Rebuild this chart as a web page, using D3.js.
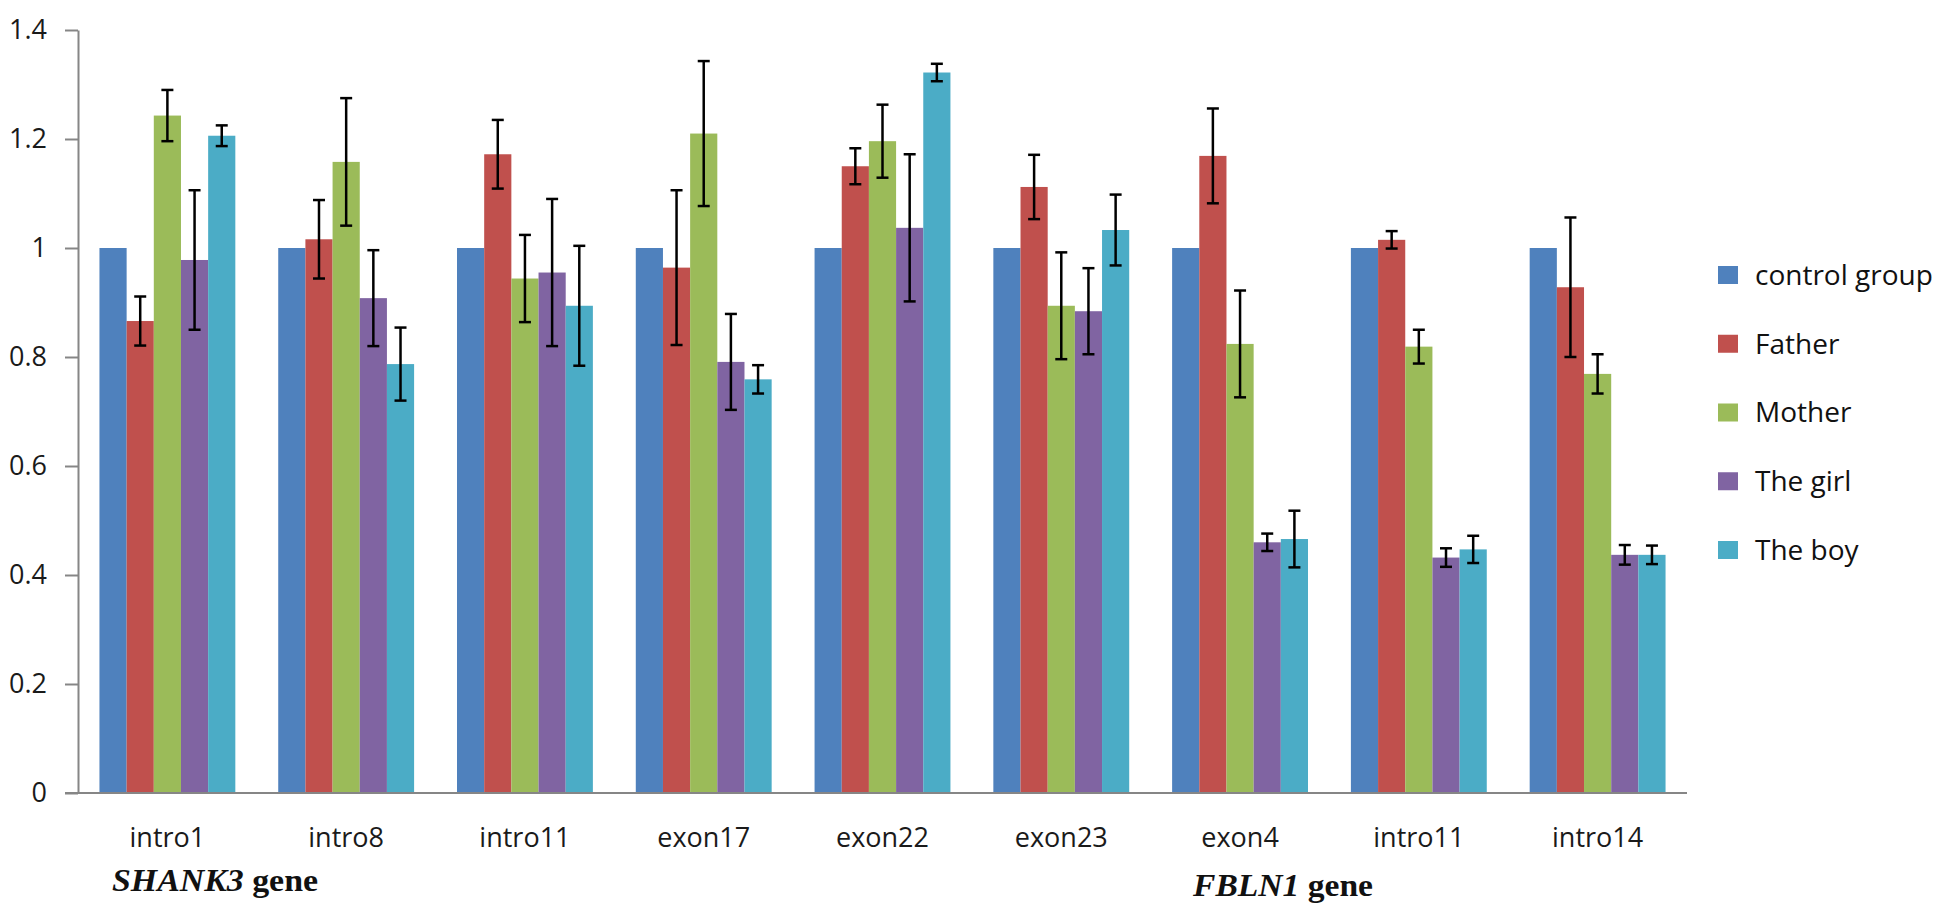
<!DOCTYPE html>
<html>
<head>
<meta charset="utf-8">
<script src="https://cdn.jsdelivr.net/npm/d3@7/dist/d3.min.js"></script>
<style>
  html, body { margin: 0; padding: 0; background: #ffffff; }
  svg { display: block; }
</style>
</head>
<body>
<svg id="chart" width="1946" height="916"></svg>
<script>
// ---- data ----
const categories = ["intro1", "intro8", "intro11", "exon17", "exon22", "exon23", "exon4", "intro11", "intro14"];
const seriesNames = ["control group", "Father", "Mother", "The girl", "The boy"];
const seriesColors = ["#4F81BD", "#C0504D", "#9BBB59", "#8064A2", "#4BACC6"];

const controlValues = [1, 1, 1, 1, 1, 1, 1, 1, 1];
const controlErrors = [0, 0, 0, 0, 0, 0, 0, 0, 0];
const fatherValues  = [0.866, 1.016, 1.172, 0.964, 1.150, 1.112, 1.169, 1.015, 0.928];
const fatherErrors  = [0.045, 0.072, 0.063, 0.142, 0.033, 0.059, 0.087, 0.016, 0.128];
const motherValues  = [1.243, 1.158, 0.944, 1.210, 1.196, 0.894, 0.824, 0.819, 0.769];
const motherErrors  = [0.047, 0.117, 0.080, 0.133, 0.067, 0.098, 0.098, 0.031, 0.036];
const girlValues    = [0.978, 0.908, 0.955, 0.791, 1.037, 0.884, 0.460, 0.432, 0.437];
const girlErrors    = [0.128, 0.088, 0.135, 0.088, 0.135, 0.079, 0.016, 0.017, 0.018];
const boyValues     = [1.206, 0.787, 0.894, 0.759, 1.322, 1.033, 0.466, 0.447, 0.437];
const boyErrors     = [0.019, 0.067, 0.110, 0.026, 0.016, 0.065, 0.052, 0.025, 0.017];

const yTicks = [0, 0.2, 0.4, 0.6, 0.8, 1, 1.2, 1.4];
const yTickLabels = ["0", "0.2", "0.4", "0.6", "0.8", "1", "1.2", "1.4"];
const geneLabels = [
  { italic: "SHANK3", rest: " gene", x: 112, y: 891, w: 206 },
  { italic: "FBLN1",  rest: " gene", x: 1193, y: 896, w: 180 }
];

const allValues = [controlValues, fatherValues, motherValues, girlValues, boyValues];
const allErrors = [controlErrors, fatherErrors, motherErrors, girlErrors, boyErrors];

// ---- layout ----
const svg = d3.select("#chart");
const axisLeftX = 78, axisRightX = 1687, baseY = 793, topY = 30;

const x0 = d3.scaleBand()
  .domain(d3.range(categories.length))
  .range([axisLeftX, axisRightX])
  .paddingInner(0.24)
  .paddingOuter(0.12);

const x1 = d3.scaleBand()
  .domain(d3.range(seriesNames.length))
  .range([0, x0.bandwidth()])
  .padding(0);

const y = d3.scaleLinear().domain([0, 1.4]).range([baseY, topY]);

const sansFont = "'Open Sans', 'DejaVu Sans', sans-serif";

// ---- bars ----
const groups = svg.append("g").selectAll("g")
  .data(categories.map((c, i) => i))
  .join("g")
  .attr("transform", i => `translate(${x0(i)},0)`);

groups.selectAll("rect")
  .data(i => seriesNames.map((s, k) => ({ k, v: allValues[k][i], e: allErrors[k][i] })))
  .join("rect")
  .attr("x", d => x1(d.k))
  .attr("y", d => y(d.v))
  .attr("width", x1.bandwidth())
  .attr("height", d => y(0) - y(d.v))
  .attr("fill", d => seriesColors[d.k]);

// ---- error bars ----
const capHalf = 6;
const eb = groups.selectAll("g.err")
  .data(i => seriesNames.map((s, k) => ({ k, v: allValues[k][i], e: allErrors[k][i] })).filter(d => d.e > 0))
  .join("g")
  .attr("class", "err")
  .attr("stroke", "#000")
  .attr("stroke-width", 2.5);

eb.append("line")
  .attr("x1", d => x1(d.k) + x1.bandwidth() / 2)
  .attr("x2", d => x1(d.k) + x1.bandwidth() / 2)
  .attr("y1", d => y(d.v + d.e))
  .attr("y2", d => y(d.v - d.e));
eb.append("line")
  .attr("x1", d => x1(d.k) + x1.bandwidth() / 2 - capHalf)
  .attr("x2", d => x1(d.k) + x1.bandwidth() / 2 + capHalf)
  .attr("y1", d => y(d.v + d.e))
  .attr("y2", d => y(d.v + d.e));
eb.append("line")
  .attr("x1", d => x1(d.k) + x1.bandwidth() / 2 - capHalf)
  .attr("x2", d => x1(d.k) + x1.bandwidth() / 2 + capHalf)
  .attr("y1", d => y(d.v - d.e))
  .attr("y2", d => y(d.v - d.e));

// ---- y axis ----
const yAxis = d3.axisLeft(y)
  .tickValues(yTicks)
  .tickFormat((d, i) => yTickLabels[i])
  .tickSize(13)
  .tickSizeOuter(0)
  .tickPadding(18);

const gy = svg.append("g")
  .attr("transform", `translate(${axisLeftX},0)`)
  .call(yAxis);
gy.select(".domain").attr("stroke", "#868686").attr("stroke-width", 2);
gy.selectAll(".tick line").attr("stroke", "#868686").attr("stroke-width", 2);
gy.selectAll(".tick text")
  .attr("fill", "#1a1a1a")
  .style("font-family", sansFont)
  .style("font-size", "27px");

// ---- x axis ----
const xAxis = d3.axisBottom(x0)
  .tickFormat(i => categories[i])
  .tickSize(0)
  .tickSizeOuter(0)
  .tickPadding(35);

const gx = svg.append("g")
  .attr("transform", `translate(0,${baseY})`)
  .call(xAxis);
gx.select(".domain").remove();
gx.append("line")
  .attr("x1", 65).attr("x2", axisRightX)
  .attr("y1", 0).attr("y2", 0)
  .attr("stroke", "#868686").attr("stroke-width", 2);
gx.selectAll(".tick text")
  .attr("fill", "#1a1a1a")
  .style("font-family", sansFont)
  .style("font-size", "27px");

// ---- gene labels ----
geneLabels.forEach(g => {
  const t = svg.append("text")
    .attr("x", g.x).attr("y", g.y)
    .attr("textLength", g.w)
    .attr("lengthAdjust", "spacingAndGlyphs")
    .style("font-family", "'Liberation Serif', 'Times New Roman', serif")
    .style("font-weight", "bold")
    .style("font-size", "32px")
    .attr("fill", "#111");
  t.append("tspan").style("font-style", "italic").text(g.italic);
  t.append("tspan").text(g.rest);
});

// ---- legend ----
const legendY = d3.scalePoint()
  .domain(d3.range(seriesNames.length))
  .range([275, 550]);

const legend = svg.append("g").selectAll("g")
  .data(seriesNames.map((s, k) => k))
  .join("g")
  .attr("transform", k => `translate(1718,${legendY(k)})`);

legend.append("rect")
  .attr("x", 0).attr("y", -9)
  .attr("width", 20).attr("height", 18)
  .attr("fill", k => seriesColors[k]);

legend.append("text")
  .attr("x", 37).attr("y", 0)
  .attr("dy", "0.35em")
  .attr("fill", "#111")
  .style("font-family", sansFont)
  .style("font-size", "28px")
  .text(k => seriesNames[k]);
</script>
</body>
</html>
